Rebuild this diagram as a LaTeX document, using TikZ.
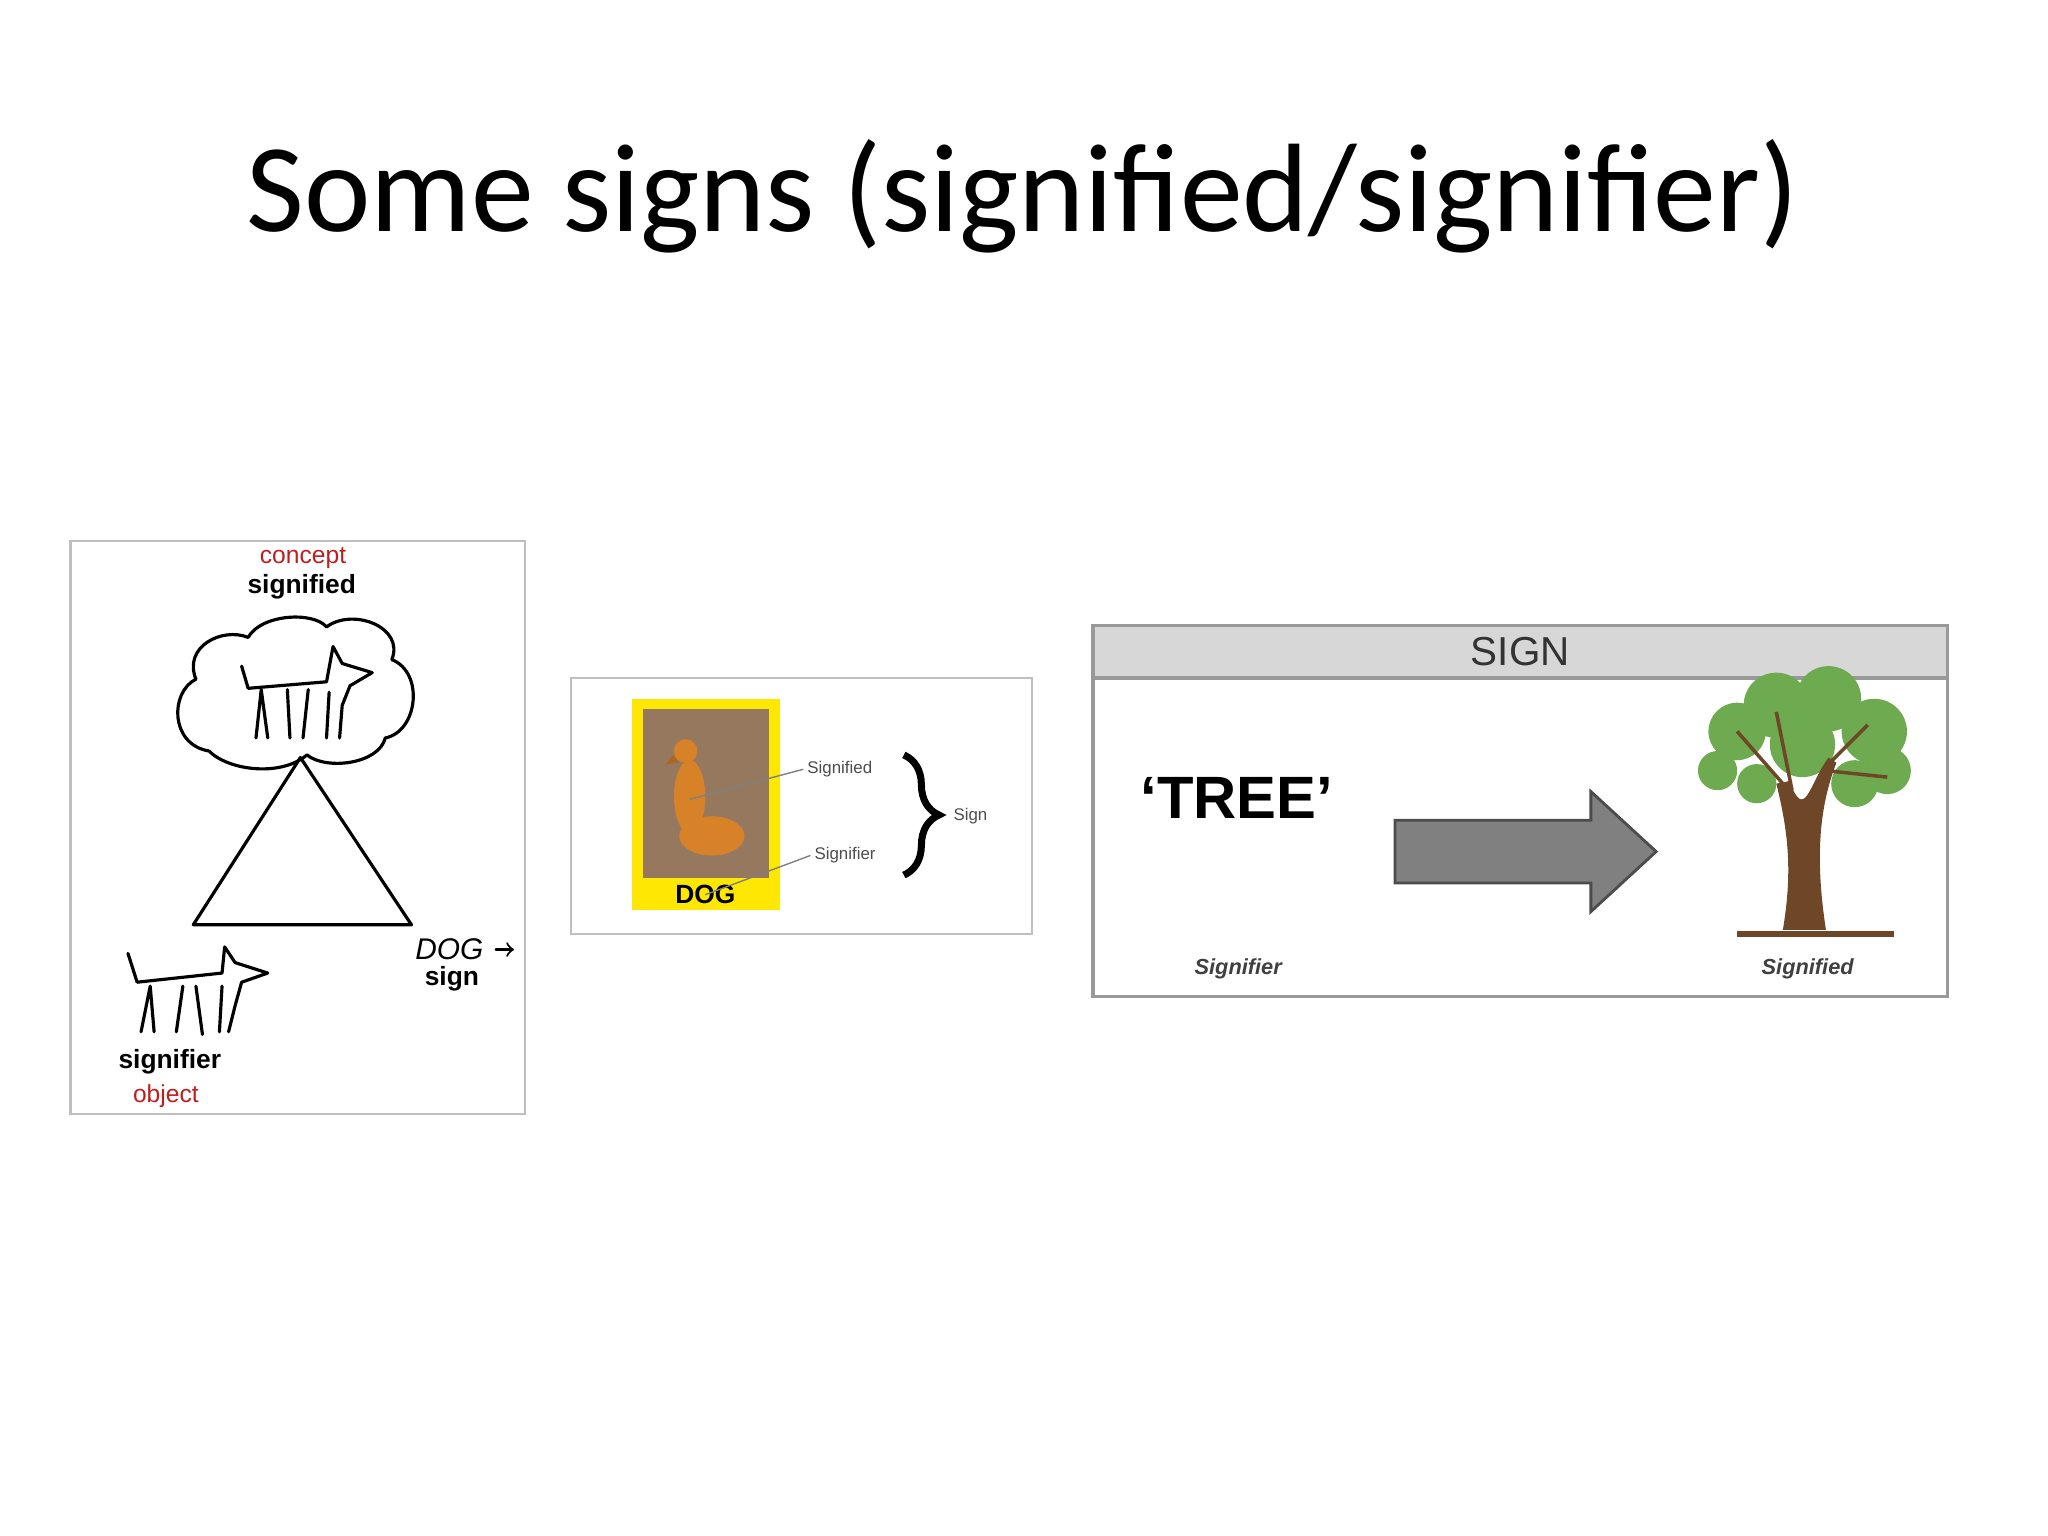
\documentclass[tikz,border=0pt]{standalone}
\usepackage{fontspec}
\setmainfont{Liberation Sans}
\newfontfamily\titlefont{Carlito}
\usetikzlibrary{shapes.symbols,decorations.pathreplacing,calc}
\definecolor{redc}{RGB}{190,30,30}
\definecolor{hdr}{RGB}{215,215,215}
\definecolor{arrg}{RGB}{128,128,128}
\definecolor{trunk}{RGB}{110,70,40}
\definecolor{leaf}{RGB}{110,170,80}
\definecolor{dogbg}{RGB}{150,120,95}
\definecolor{dogc}{RGB}{215,130,40}
\tikzset{
 panel/.style={draw=black!25,line width=0.6pt},
 sketch/.style={line width=0.9pt,line join=round,line cap=round},
 small/.style={font=\fontsize{4.8}{6}\selectfont,text=black!70,inner sep=1pt},
 lbl/.style={font=\bfseries\fontsize{7.5}{9}\selectfont,inner sep=0pt},
 red/.style={font=\fontsize{7}{9}\selectfont,text=redc,inner sep=0pt},
 itl/.style={font=\bfseries\itshape\fontsize{6.2}{8}\selectfont,text=black!75,inner sep=0pt}
}
\begin{document}
\begin{tikzpicture}[x=0.013061cm,y=-0.013061cm]
\useasboundingbox (0,0) rectangle (1568,1176);
\node (title) at (783,150) {\titlefont\fontsize{35.8}{42}\selectfont Some signs (signified/signifier)};
% left panel
\draw[panel] (54,414) rectangle (402,853);
\node[red] (concept) at (232,427) {concept};
\node[lbl] (sigd) at (231,449) {signified};
\draw[sketch] (160,575) .. controls (130,570) and (130,530) .. (150,520)
 .. controls (140,495) and (170,480) .. (190,488)
 .. controls (200,470) and (240,468) .. (250,480)
 .. controls (270,465) and (310,480) .. (300,505)
 .. controls (325,515) and (320,560) .. (295,565)
 .. controls (290,585) and (250,590) .. (235,578)
 .. controls (215,595) and (175,590) .. (160,575);
\draw[sketch] (190,527) -- (250,522) -- (255,495) -- (262,508) -- (285,515) -- (268,525) -- (262,540) -- (260,565)
 (252,530) -- (250,565) (236,528) -- (232,565) (220,528) -- (222,565) (200,528) -- (196,565) (200,528) -- (205,565) (190,527) -- (185,510);
\draw[sketch] (230,580) -- (148,708) -- (315,708) -- cycle;
\draw[sketch] (105,752) -- (170,745) -- (172,725) -- (180,737) -- (205,745) -- (185,752) -- (180,770) -- (175,790)
 (170,755) -- (168,790) (150,755) -- (155,792) (140,755) -- (135,790) (115,755) -- (108,790) (115,755) -- (118,790) (105,752) -- (98,730);
\node[font=\itshape\fontsize{8.5}{10}\selectfont] (dogh) at (344,727) {DOG};
\draw[sketch,->,line width=0.6pt] (dogh.east) -- ++(14,0);
\node[lbl] (sign1) at (346,749) {sign};
\node[lbl] (sigr) at (130,813) {signifier};
\node[red] (object) at (127,839) {object};
% middle panel
\draw[panel] (437,519) rectangle (790,715);
\fill[yellow!90!orange] (484,535) rectangle (597,697);
\fill[dogbg] (492,543) rectangle (589,672);
\node[lbl] (dogt) at (540,685) {DOG};
\fill[dogc] (525,575) circle (9);
\fill[dogc] (528,610) ellipse (12 and 28);
\fill[dogc] (545,640) ellipse (25 and 15);
\fill[dogc!80!black] (515,578) -- (510,585) -- (520,584) -- cycle;
\node[small] (msd) at (643,589) {Signified};
\node[small] (msr) at (647,655) {Signifier};
\coordinate (dp1) at (528,612);
\coordinate (dp2) at (540,685);
\draw[black!50,line width=0.4pt] (dp1) -- (msd.west);
\draw[black!50,line width=0.4pt] (dp2) -- (msr.west);
\draw[decorate,decoration={brace,amplitude=10pt},line width=2pt] (692,578) -- (692,670);
\node[small] (msign) at (743,625) {Sign};
% right panel
\draw[panel,draw=black!40,line width=1pt] (837,479) rectangle (1491,763);
\draw[fill=hdr,draw=black!40,line width=1pt] (837,479) rectangle (1491,519);
\node[font=\fontsize{11.5}{14}\selectfont,text=black!80] (sign2) at (1164,499) {SIGN};
\node[font=\bfseries\fontsize{17}{20}\selectfont] (tree) at (947,611) {‘TREE’};
\draw[fill=arrg,draw=black!70,line width=0.8pt] (1068,628) -- (1218,628) -- (1218,606) -- (1268,652) -- (1218,698) -- (1218,676) -- (1068,676) -- cycle;
% tree
\foreach \x/\y/\r in {1330/560/22,1360/540/25,1400/535/25,1435/560/25,1445/590/18,1315/590/15,1380/570/25,1420/600/18,1345/600/15}
 \fill[leaf] (\x,\y) circle (\r);
\fill[trunk] (1365,712) .. controls (1372,670) and (1370,640) .. (1360,600) -- (1370,598) .. controls (1382,630) and (1385,600) .. (1400,580) -- (1406,584) .. controls (1392,620) and (1390,660) .. (1398,712) -- cycle;
\draw[trunk,line width=1.5pt] (1330,715) -- (1450,715);
\draw[trunk,line width=1pt] (1365,600) -- (1330,560) (1372,605) -- (1360,545) (1395,590) -- (1430,555) (1398,590) -- (1445,595);
\node[itl] (rsr) at (948,742) {Signifier};
\node[itl] (rsd) at (1384,742) {Signified};
\end{tikzpicture}
\end{document}
